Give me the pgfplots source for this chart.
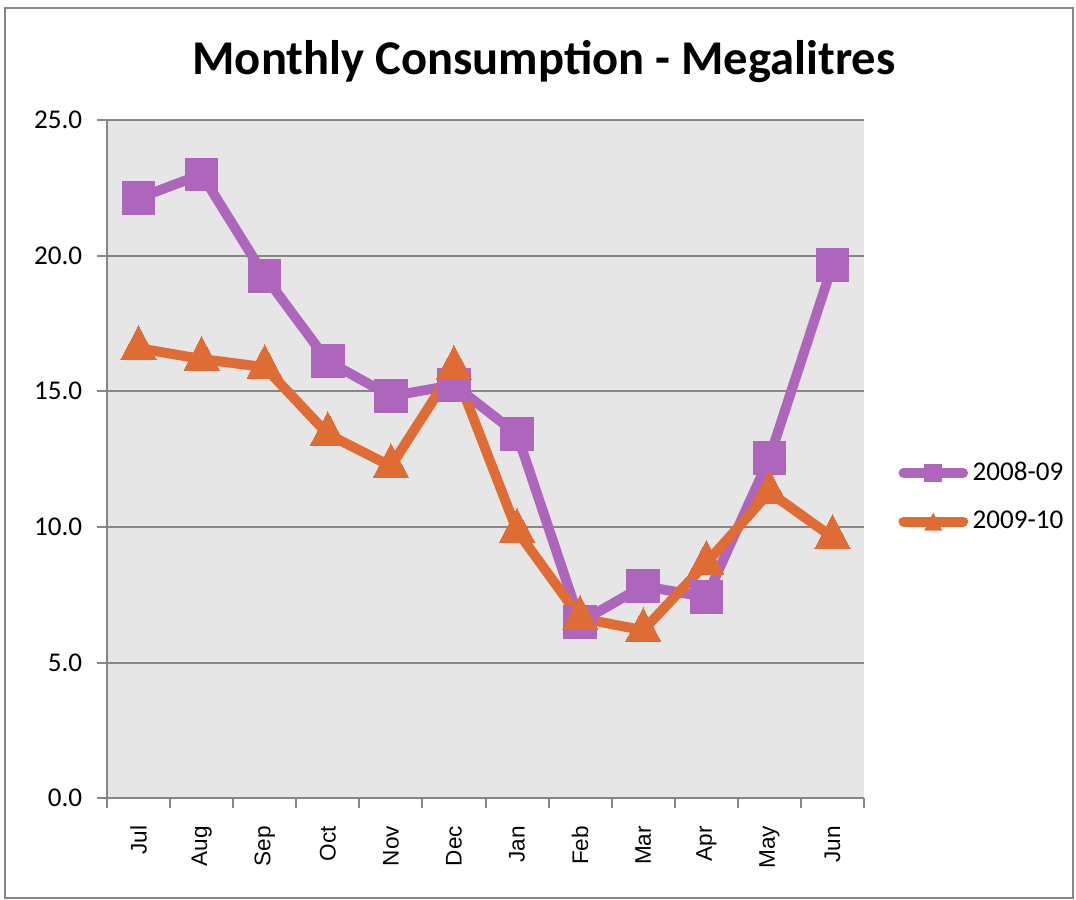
\documentclass[border=0pt]{standalone}
\usepackage{pgfplots}
\pgfplotsset{compat=1.18}
\usepackage{fontspec}
\setmainfont{Carlito}
\newfontfamily\xlabfont{Liberation Sans}
\definecolor{cpurple}{RGB}{173,102,187}
\definecolor{corange}{RGB}{224,108,53}
\definecolor{cbg}{RGB}{230,230,230}
\definecolor{cgrid}{RGB}{134,134,134}
\begin{document}
\begin{tikzpicture}
\useasboundingbox (0,0) rectangle (476.7pt,398.3pt);
\draw[cgrid, line width=0.6pt] (2.2pt,0.4pt) rectangle (475.3pt,394.7pt);
\node[font=\fontsize{21.5}{24}\selectfont\bfseries] at (241pt,371pt) {Monthly Consumption - Megalitres};
\begin{axis}[
  at={(47.4pt,44.7pt)}, anchor=south west,
  scale only axis, width=335.4pt, height=300.4pt,
  axis background/.style={fill=cbg},
  xmin=-0.5, xmax=11.5, ymin=0, ymax=25,
  axis x line=bottom, axis y line=left,
  axis line style={cgrid, line width=0.9pt, -},
  xtick={0,...,11},
  xticklabels={Jul,Aug,Sep,Oct,Nov,Dec,Jan,Feb,Mar,Apr,May,Jun},
  minor xtick={-0.5,0.5,...,11.5},
  ytick={0,5,...,25},
  tick align=outside,
  major tick length=4.4pt, minor tick length=4.4pt,
  x tick style={draw=none},
  minor x tick style={draw=cgrid, line width=0.9pt},
  y tick style={draw=cgrid, line width=0.9pt},
  ymajorgrids, grid style={cgrid, line width=0.9pt},
  xticklabel style={rotate=90, anchor=east, font=\xlabfont\fontsize{10}{12}\selectfont, xshift=-4.4pt},
  yticklabel style={font=\fontsize{12}{14}\selectfont, anchor=east, xshift=-3.1pt},
  /pgf/number format/assume math mode=true,
  yticklabel={\pgfmathprintnumber[fixed,fixed zerofill,precision=1]{\tick}},
  legend style={at={(1.045,0.444)}, anchor=west, draw=none, fill=none,
    font=\fontsize{12}{14}\selectfont, row sep=8pt, inner sep=0pt},
  legend cell align=left,
  clip=false,
]
\addplot[cpurple, line width=4.4pt, line join=round, mark=square*, mark size=7.2pt, mark options={solid, fill=cpurple, draw=none, line width=0pt, line join=miter},
  legend image code/.code={\draw[cpurple, line width=4.4pt, line cap=round] (0pt,0pt) -- (26.4pt,0pt); \path[fill=cpurple, draw=none] (13.2pt,0pt) +(-4pt,-4pt) rectangle +(4pt,4pt);}]
coordinates {(0,22.12) (1,23.0) (2,19.25) (3,16.11) (4,14.82) (5,15.23) (6,13.42) (7,6.49) (8,7.82) (9,7.41) (10,12.54) (11,19.65)};
\addlegendentry{2008-09}
\addplot[corange, line width=4.4pt, line join=round, mark=triangle*, mark size=9pt, mark options={solid, fill=corange, draw=none, line width=0pt, line join=miter, yscale=1.1},
  legend image code/.code={\draw[corange, line width=4.4pt, line cap=round] (0pt,0pt) -- (26.4pt,0pt); \path[fill=corange, draw=none] (9.2pt,-4pt) -- (17.2pt,-4pt) -- (13.2pt,4pt) -- cycle;}]
coordinates {(0,16.59) (1,16.19) (2,15.89) (3,13.42) (4,12.24) (5,15.86) (6,9.85) (7,6.64) (8,6.19) (9,8.67) (10,11.28) (11,9.62)};
\addlegendentry{2009-10}
\end{axis}
\end{tikzpicture}
\end{document}
